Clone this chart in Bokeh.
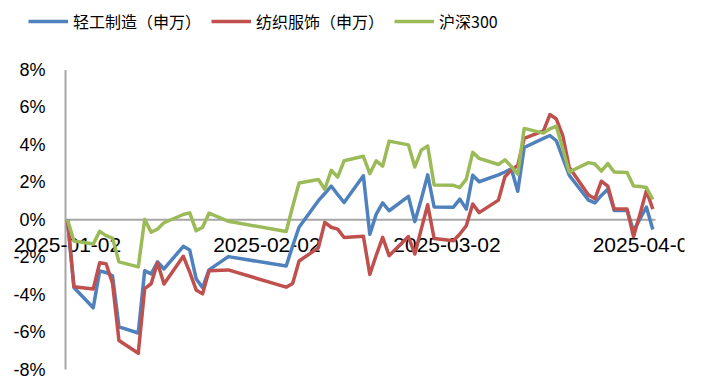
import pandas as pd
from bokeh.plotting import figure
from bokeh.models import Range1d, Legend, LegendItem
from bokeh.core.properties import value
from bokeh.embed import file_html
from bokeh.resources import INLINE

dates = [
    "2025-01-02", "2025-01-03", "2025-01-06", "2025-01-07", "2025-01-08", "2025-01-09", "2025-01-10",
    "2025-01-13", "2025-01-14", "2025-01-15", "2025-01-16", "2025-01-17", "2025-01-20", "2025-01-21",
    "2025-01-22", "2025-01-23", "2025-01-24", "2025-01-27",
    "2025-02-05", "2025-02-06", "2025-02-07", "2025-02-10", "2025-02-11", "2025-02-12", "2025-02-13",
    "2025-02-14", "2025-02-17", "2025-02-18", "2025-02-19", "2025-02-20", "2025-02-21", "2025-02-24",
    "2025-02-25", "2025-02-26", "2025-02-27", "2025-02-28",
    "2025-03-03", "2025-03-04", "2025-03-05", "2025-03-06", "2025-03-07", "2025-03-10", "2025-03-11",
    "2025-03-12", "2025-03-13", "2025-03-14", "2025-03-17", "2025-03-18", "2025-03-19", "2025-03-20",
    "2025-03-21", "2025-03-24", "2025-03-25", "2025-03-26", "2025-03-27", "2025-03-28", "2025-03-30",
    "2025-03-31", "2025-04-01", "2025-04-02", "2025-04-03",
]

light_industry = [
    0, -3.62, -4.70, -2.74, -2.82, -3.00, -5.72, -6.05, -2.72, -2.90, -2.25, -2.63, -1.42, -1.62,
    -3.15, -3.63, -2.68, -1.97,
    -2.47, -1.40, -0.40, 1.02, 1.40, 1.80, 1.35, 0.92, 2.35, -0.78, 0.30, 0.90, 0.48, 1.25,
    -0.10, 1.10, 2.40, 0.68,
    0.67, 1.10, 0.57, 2.38, 2.03, 2.40, 2.55, 2.72, 1.52, 3.86, 4.35, 4.50, 4.22, 3.30,
    2.38, 1.05, 0.90, 1.30, 1.63, 0.50, 0.50, -0.60, 0.05, 0.68, -0.52,
]

textile_apparel = [
    0, -3.58, -3.70, -2.30, -2.35, -3.40, -6.45, -7.13, -3.68, -3.42, -2.30, -3.43, -1.95, -2.80,
    -3.75, -3.96, -2.72, -2.68,
    -3.60, -3.40, -2.20, -1.50, -0.14, -0.40, -0.50, -0.95, -0.88, -2.92, -1.90, -0.94, -1.92, -0.90,
    -1.83, -0.50, 0.80, -1.00,
    -1.12, -0.76, -0.32, 0.84, 0.38, 1.05, 2.30, 2.65, 2.90, 4.35, 4.75, 5.62, 5.38, 4.50,
    2.80, 1.32, 1.12, 2.06, 1.80, 0.57, 0.57, -0.90, 0.30, 1.55, 0.57,
]

csi300 = [
    0, -1.13, -1.30, -0.62, -0.85, -0.98, -2.25, -2.52, 0.02, -0.66, -0.50, -0.16, 0.28, 0.37,
    -0.59, -0.40, 0.35, -0.08,
    -0.63, 0.70, 1.96, 2.15, 1.63, 2.64, 2.28, 3.15, 3.39, 2.46, 3.15, 2.87, 4.20, 4.00,
    2.82, 3.72, 3.94, 1.86,
    1.84, 1.72, 2.17, 3.60, 3.28, 2.95, 3.20, 2.85, 2.43, 4.88, 4.63, 4.86, 5.00, 3.80,
    2.55, 3.05, 2.98, 2.60, 3.00, 2.55, 2.52, 1.80, 1.78, 1.72, 1.08,
]

series_names = ["轻工制造（申万）", "纺织服饰（申万）", "沪深300"]
series_colors = ["#4F81BD", "#C0504D", "#9BBB59"]

x_tick_dates = ["2025-01-02", "2025-02-02", "2025-03-02", "2025-04-02"]
x_tick_labels = ["2025-01-02", "2025-02-02", "2025-03-02", "2025-04-02"]
y_ticks = [-8, -6, -4, -2, 0, 2, 4, 6, 8]
y_tick_labels = ["-8%", "-6%", "-4%", "-2%", "0%", "2%", "4%", "6%", "8%"]

# ---- layout (pixels) ----
W, H = 702, 378
AXIS_L, AXIS_R, CLIP_R = 65, 655, 684
Y_TOP_PX, Y_BOT_PX = 69.5, 369.0

x = pd.to_datetime(dates)
axis_start = x[0] - pd.Timedelta(hours=7.5)
axis_end = x[-1] + pd.Timedelta(hours=10)
per_px = (axis_end - axis_start) / (AXIS_R - AXIS_L)
x_lo = axis_start - per_px * AXIS_L
x_hi = axis_end + per_px * (CLIP_R - AXIS_R)

y_lo_t, y_hi_t = y_ticks[0], y_ticks[-1]
px_per_unit = (Y_BOT_PX - Y_TOP_PX) / (y_hi_t - y_lo_t)
y_hi = y_hi_t + Y_TOP_PX / px_per_unit
y_lo = y_lo_t - (H - Y_BOT_PX) / px_per_unit
label_y = -25 / px_per_unit

p = figure(width=W, height=H, x_axis_type="datetime",
           x_range=Range1d(x_lo, x_hi), y_range=Range1d(y_lo, y_hi),
           output_backend="svg", toolbar_location=None,
           x_axis_location=None, y_axis_location=None,
           min_border_left=0, min_border_right=W - CLIP_R, min_border_top=0, min_border_bottom=0)
p.xgrid.visible = False
p.ygrid.visible = False
p.outline_line_color = None
p.background_fill_color = "white"
p.border_fill_color = "white"

# axis lines
p.segment(x0=[axis_start], y0=[y_lo_t], x1=[axis_start], y1=[y_hi_t],
          line_color="#A6A6A6", line_width=2)
p.segment(x0=[axis_start], y0=[0], x1=[axis_end], y1=[0],
          line_color="#A6A6A6", line_width=2)

# y tick labels
p.text(x=[axis_start] * len(y_ticks), y=y_ticks, text=y_tick_labels, x_offset=-20,
       text_align="right", text_baseline="middle", text_font=value("Liberation Sans"),
       text_font_size="18px", text_color="#000000")

# x tick labels (sit just under the zero line)
p.text(x=pd.to_datetime(x_tick_dates), y=[label_y] * len(x_tick_dates), text=x_tick_labels,
       text_align="center", text_baseline="middle", text_font=value("Liberation Sans"),
       text_font_size="21px", text_color="#000000")

renderers = []
for ys, c in zip([light_industry, textile_apparel, csi300], series_colors):
    r = p.line(x, ys, line_color=c, line_width=3.5, line_join="round")
    renderers.append(r)

legend = Legend(items=[LegendItem(label=n, renderers=[r]) for n, r in zip(series_names, renderers)],
                orientation="horizontal", location=(28, 345))
legend.glyph_width = 40
legend.glyph_height = 16
legend.label_standoff = 5
legend.spacing = 10
legend.padding = 0
legend.margin = 0
legend.border_line_color = None
legend.background_fill_alpha = 0
legend.label_text_font = "Noto Sans CJK SC"
legend.label_text_font_size = "16px"
legend.label_text_color = "#000000"
p.add_layout(legend, "center")

open("out.html", "w").write(file_html(p, INLINE))
